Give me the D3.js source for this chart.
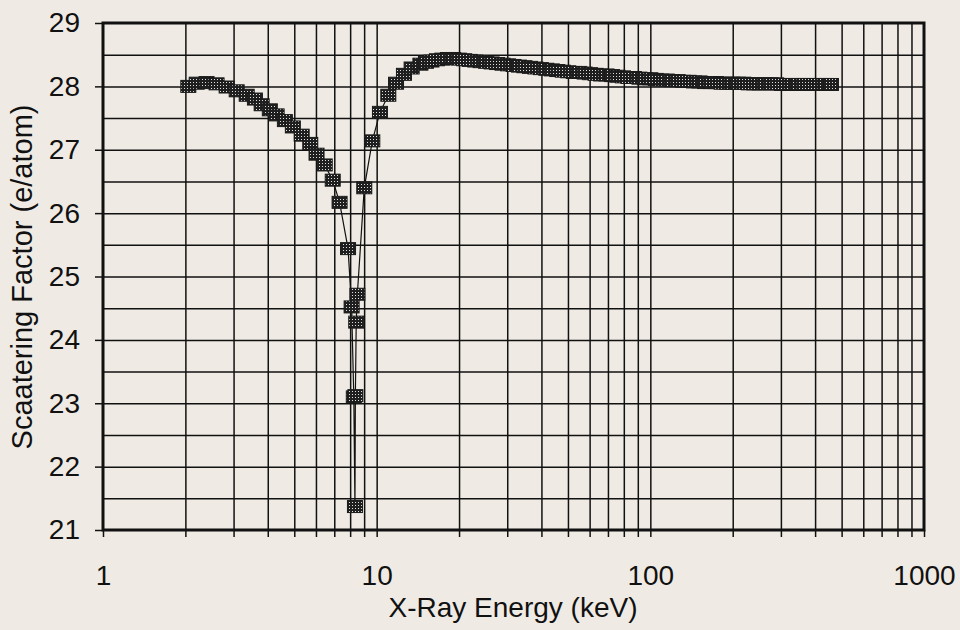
<!DOCTYPE html>
<html>
<head>
<meta charset="utf-8">
<script src="https://cdn.jsdelivr.net/npm/d3@7"></script>
<style>
  body { margin: 0; background: #efebe4; }
  svg { display: block; font-family: "Liberation Sans", Arial, sans-serif; }
</style>
</head>
<body>
<script>
// Energies (keV) and scattering factor (e/atom)
let energy = [
  2.05, 2.20, 2.39, 2.60, 2.83, 3.08, 3.35, 3.59, 3.80, 4.07,
  4.31, 4.62, 4.94, 5.32, 5.72, 6.03, 6.46, 6.91, 7.32, 7.86,
  8.10, 8.25, 8.33, 8.36, 8.42, 8.50, 9.01, 9.64, 10.28, 11.03,
  11.77, 12.58, 13.42,
  14.45, 15.14, 15.85, 16.60, 17.38, 18.20, 19.05, 19.95, 20.89, 21.88,
  22.91, 23.99, 25.12, 26.30, 27.54, 28.84, 30.20, 31.62, 33.11, 34.67,
  36.31, 38.02, 39.81, 41.69, 43.65, 45.71, 47.86, 50.12, 52.48, 54.95,
  57.54, 60.26, 63.10, 66.07, 69.18, 72.44, 75.86, 79.43, 83.18, 87.10,
  91.20, 95.50, 100.0, 104.7, 109.6, 114.8, 120.2, 125.9, 131.8, 138.0,
  144.5, 151.4, 158.5, 166.0, 173.8, 182.0, 190.5, 199.5, 208.9, 218.8,
  229.1, 239.9, 251.2, 263.0, 275.4, 288.4, 302.0, 316.2, 331.1, 346.7,
  363.1, 380.2, 398.1, 416.9, 436.5, 457.1
];
let factor = [
  28.00, 28.05, 28.06, 28.04, 27.99, 27.93, 27.86, 27.80, 27.71, 27.63,
  27.55, 27.46, 27.36, 27.23, 27.10, 26.93, 26.76, 26.52, 26.17, 25.44,
  24.52, 23.10, 21.37, 23.12, 24.28, 24.72, 26.40, 27.14, 27.59, 27.86,
  28.05, 28.19, 28.29,
  28.35, 28.38, 28.40, 28.42, 28.43, 28.44, 28.44, 28.43, 28.42, 28.41,
  28.40, 28.39, 28.38, 28.37, 28.36, 28.35, 28.34, 28.33, 28.32, 28.31,
  28.30, 28.29, 28.28, 28.27, 28.26, 28.25, 28.24, 28.23, 28.22, 28.22,
  28.21, 28.20, 28.19, 28.18, 28.18, 28.17, 28.16, 28.15, 28.14, 28.14,
  28.13, 28.12, 28.12, 28.11, 28.10, 28.10, 28.09, 28.09, 28.08, 28.08,
  28.07, 28.07, 28.06, 28.06, 28.06, 28.05, 28.05, 28.05, 28.05, 28.05,
  28.04, 28.04, 28.04, 28.04, 28.04, 28.04, 28.03, 28.03, 28.03, 28.03,
  28.03, 28.03, 28.03, 28.03, 28.03, 28.03
];

let xGrid = [2, 3, 4, 5, 6, 7, 8, 9, 10, 20, 30, 40, 50, 60, 70, 80, 90, 100,
  200, 300, 400, 500, 600, 700, 800, 900];
let xLabels = [1, 10, 100, 1000];
let yGrid = [21.5, 22, 22.5, 23, 23.5, 24, 24.5, 25, 25.5, 26, 26.5, 27, 27.5, 28, 28.5];
let yLabels = [21, 22, 23, 24, 25, 26, 27, 28, 29];

let data = energy.map((e, i) => ({ e: e, f: factor[i] }));

let width = 960, height = 630;
let margin = { top: 23, right: 36, bottom: 100, left: 103 };

let svg = d3.select('body')
  .append('svg')
  .attr('width', width)
  .attr('height', height);

let xScale = d3.scaleLog()
  .domain([1, 1000])
  .range([margin.left, width - margin.right]);

let yScale = d3.scaleLinear()
  .domain([21, 29])
  .range([height - margin.bottom, margin.top]);

let plotBottom = yScale(21), plotTop = yScale(29);
let plotLeft = xScale(1), plotRight = xScale(1000);

// dotted fill for the markers
let pat = svg.append('defs').append('pattern')
  .attr('id', 'dots')
  .attr('patternUnits', 'userSpaceOnUse')
  .attr('width', 3)
  .attr('height', 3);
pat.append('rect').attr('width', 3).attr('height', 3).attr('fill', '#1f1f1f');
pat.append('rect').attr('x', 1).attr('y', 1).attr('width', 1).attr('height', 1).attr('fill', '#e0e0e0');

// vertical grid
svg.append('g')
  .attr('transform', `translate(0,${plotBottom})`)
  .call(d3.axisBottom(xScale).tickValues(xGrid).tickSizeInner(-(plotBottom - plotTop)).tickSizeOuter(0).tickFormat(''))
  .call(g => g.select('.domain').remove())
  .call(g => g.selectAll('line').attr('stroke', '#111').attr('stroke-width', 1.5));

// outward ticks under the x axis
svg.append('g')
  .attr('transform', `translate(0,${plotBottom})`)
  .call(d3.axisBottom(xScale).tickValues(xGrid.concat([1, 1000])).tickSize(7).tickFormat(''))
  .call(g => g.select('.domain').remove())
  .call(g => g.selectAll('line').attr('stroke', '#111').attr('stroke-width', 1.5));

// x labels
svg.append('g')
  .attr('transform', `translate(0,${plotBottom})`)
  .call(d3.axisBottom(xScale).tickValues(xLabels).tickSize(0).tickPadding(35).tickFormat(d3.format('d')))
  .call(g => g.select('.domain').remove())
  .call(g => g.selectAll('text').style('font-size', '28px').attr('fill', '#111'));

// horizontal grid
svg.append('g')
  .attr('transform', `translate(${plotLeft},0)`)
  .call(d3.axisLeft(yScale).tickValues(yGrid).tickSizeInner(-(plotRight - plotLeft)).tickSizeOuter(0).tickFormat(''))
  .call(g => g.select('.domain').remove())
  .call(g => g.selectAll('line').attr('stroke', '#111').attr('stroke-width', 1.5));

// y ticks + labels
svg.append('g')
  .attr('transform', `translate(${plotLeft},0)`)
  .call(d3.axisLeft(yScale).tickValues(yLabels).tickSize(8).tickPadding(15).tickFormat(d3.format('d')))
  .call(g => g.select('.domain').remove())
  .call(g => g.selectAll('line').attr('stroke', '#111').attr('stroke-width', 1.5))
  .call(g => g.selectAll('text').style('font-size', '28px').attr('fill', '#111'));

// plot frame
svg.append('rect')
  .attr('x', plotLeft)
  .attr('y', plotTop)
  .attr('width', plotRight - plotLeft)
  .attr('height', plotBottom - plotTop)
  .attr('fill', 'none')
  .attr('stroke', '#111')
  .attr('stroke-width', 3);

// connecting line
let line = d3.line()
  .x(d => xScale(d.e))
  .y(d => yScale(d.f));

svg.append('path')
  .datum(data)
  .attr('d', line)
  .attr('fill', 'none')
  .attr('stroke', '#111')
  .attr('stroke-width', 1.2);

// square markers
let mw = 15, mh = 12;
svg.selectAll('rect.pt')
  .data(data)
  .enter()
  .append('rect')
  .attr('class', 'pt')
  .attr('x', d => xScale(d.e) - mw / 2)
  .attr('y', d => yScale(d.f) - mh / 2)
  .attr('width', mw)
  .attr('height', mh)
  .attr('fill', 'url(#dots)')
  .attr('stroke', '#1a1a1a')
  .attr('stroke-width', 1);

// axis titles
svg.append('text')
  .attr('x', 513)
  .attr('y', 617)
  .attr('text-anchor', 'middle')
  .style('font-size', '28px')
  .attr('fill', '#111')
  .text('X-Ray Energy (keV)');

svg.append('text')
  .attr('transform', 'translate(32,277) rotate(-90)')
  .attr('text-anchor', 'middle')
  .style('font-size', '29px')
  .attr('fill', '#111')
  .text('Scaatering Factor (e/atom)');
</script>
</body>
</html>
